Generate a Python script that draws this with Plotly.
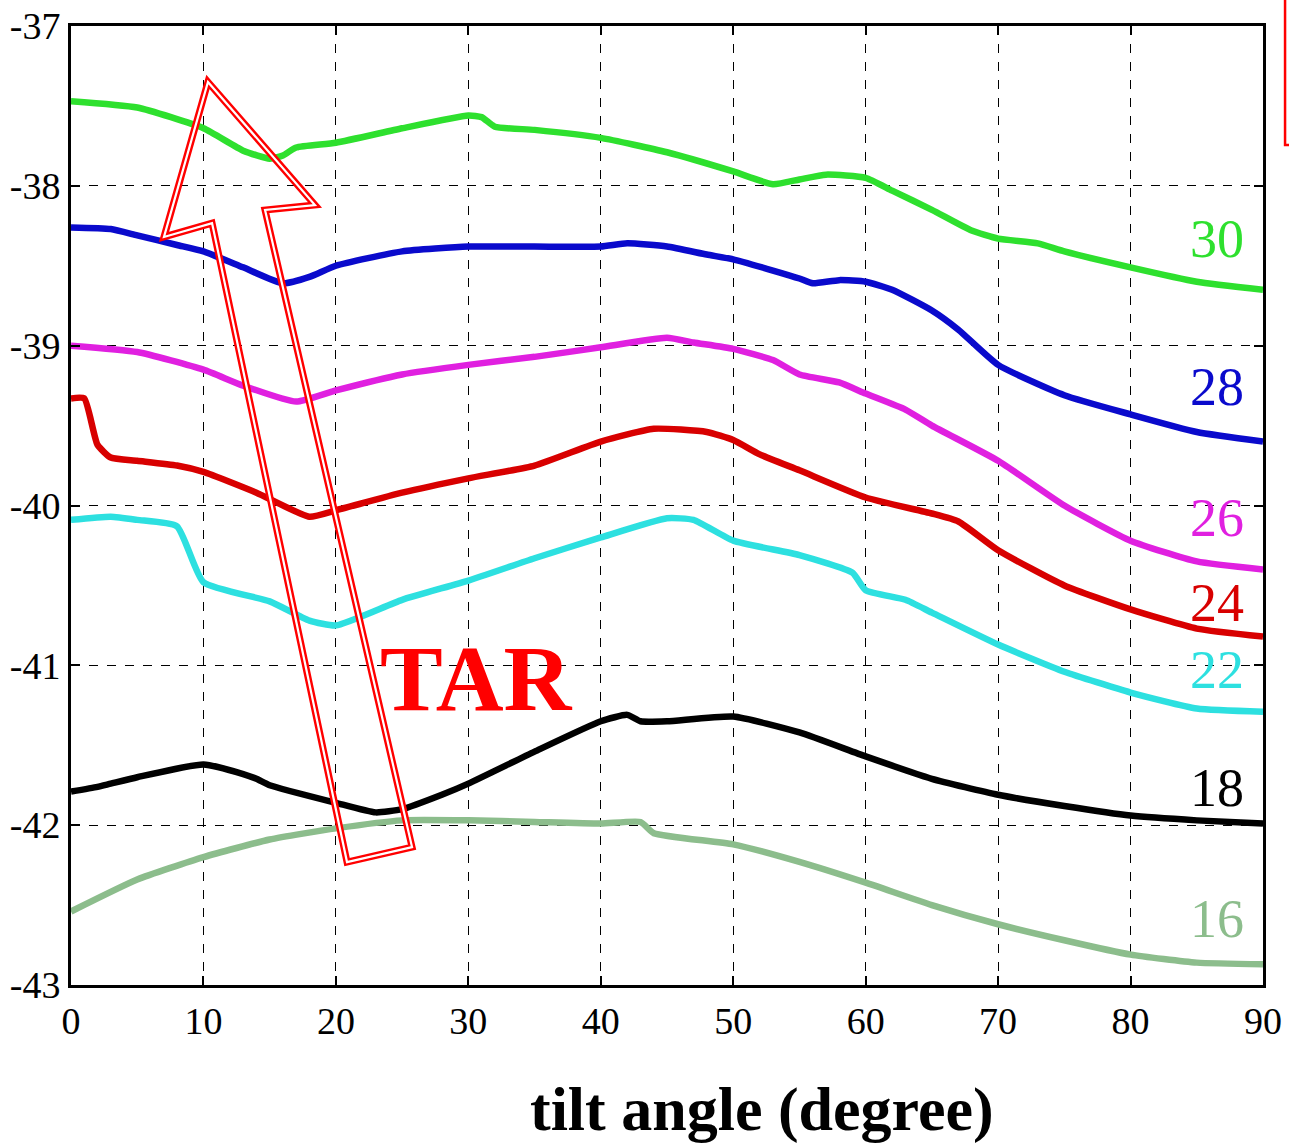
import plotly.graph_objects as go

# ---- data (tilt angle in degree, value) ----
x30 = [0, 5, 10, 13, 15, 16, 17, 20, 25, 30, 31, 32, 35, 40, 45, 50, 53, 55, 57, 60, 62, 65, 68, 70, 73, 75, 80, 85, 90]
y30 = [-37.47, -37.51, -37.64, -37.78, -37.83, -37.81, -37.76, -37.73, -37.64, -37.56, -37.57, -37.63, -37.65, -37.70,
       -37.79, -37.91, -37.99, -37.96, -37.93, -37.95, -38.03, -38.15, -38.28, -38.33, -38.36, -38.41, -38.51, -38.60, -38.65]

x28 = [0, 3, 5, 8, 10, 13, 16, 18, 20, 25, 30, 35, 40, 42, 45, 48, 50, 53, 55, 56, 58, 60, 62, 65, 67, 70, 75, 80, 85, 90]
y28 = [-38.26, -38.27, -38.31, -38.37, -38.41, -38.51, -38.61, -38.57, -38.50, -38.41, -38.38, -38.38, -38.38, -38.36,
       -38.38, -38.43, -38.46, -38.53, -38.58, -38.61, -38.59, -38.60, -38.65, -38.78, -38.90, -39.12, -39.31, -39.43,
       -39.54, -39.60]

x26 = [0, 5, 10, 13, 17, 20, 25, 30, 35, 40, 45, 47, 50, 53, 55, 58, 60, 63, 65, 70, 75, 80, 85, 90]
y26 = [-39.00, -39.04, -39.15, -39.25, -39.35, -39.28, -39.18, -39.12, -39.07, -39.01, -38.95, -38.98, -39.02, -39.09,
       -39.18, -39.23, -39.30, -39.40, -39.50, -39.72, -40.00, -40.22, -40.35, -40.40]

x24 = [0, 1, 2, 3, 5, 8, 10, 14, 18, 20, 25, 30, 35, 40, 44, 48, 50, 52, 55, 60, 65, 67, 70, 75, 80, 85, 90]
y24 = [-39.33, -39.33, -39.62, -39.70, -39.72, -39.75, -39.79, -39.92, -40.07, -40.03, -39.92, -39.83, -39.75, -39.60,
       -39.52, -39.54, -39.59, -39.68, -39.78, -39.95, -40.05, -40.10, -40.28, -40.50, -40.65, -40.77, -40.82]

x22 = [0, 3, 5, 8, 10, 15, 18, 20, 25, 30, 35, 40, 45, 47, 50, 55, 59, 60, 63, 65, 70, 75, 80, 85, 90]
y22 = [-40.09, -40.07, -40.09, -40.13, -40.48, -40.60, -40.72, -40.75, -40.59, -40.47, -40.33, -40.20, -40.08, -40.09,
       -40.22, -40.31, -40.42, -40.53, -40.59, -40.67, -40.87, -41.04, -41.17, -41.27, -41.29]

x18 = [0, 2, 3, 5, 10, 13, 14, 15, 20, 23, 25, 28, 30, 35, 40, 42, 43, 45, 50, 55, 60, 65, 70, 75, 80, 85, 90]
y18 = [-41.79, -41.76, -41.74, -41.70, -41.62, -41.68, -41.71, -41.75, -41.86, -41.92, -41.90, -41.81, -41.74, -41.54,
       -41.35, -41.31, -41.35, -41.35, -41.32, -41.42, -41.57, -41.71, -41.81, -41.88, -41.94, -41.97, -41.99]

x16 = [0, 5, 10, 15, 20, 25, 30, 35, 40, 43, 44, 50, 55, 60, 65, 70, 75, 80, 85, 90]
y16 = [-42.54, -42.34, -42.20, -42.09, -42.02, -41.97, -41.97, -41.98, -41.99, -41.98, -42.05, -42.12, -42.23, -42.36,
       -42.50, -42.62, -42.72, -42.81, -42.86, -42.87]

labels = ["30", "28", "26", "24", "22", "18", "16"]
xs = [x30, x28, x26, x24, x22, x18, x16]
ys = [y30, y28, y26, y24, y22, y18, y16]
colors = ["#2ee02e", "#0a0acc", "#e020e0", "#d80000", "#2de0e0", "#000000", "#8cbd8c"]
label_y = [-38.33, -39.26, -40.08, -40.61, -41.03, -41.77, -42.59]

xticks = [0, 10, 20, 30, 40, 50, 60, 70, 80, 90]
yticks = [-43, -42, -41, -40, -39, -38, -37]

# arrow outline (data coordinates)
arrow_x = [10.34, 18.42, 14.65, 25.75, 20.84, 10.65, 7.02]
arrow_y = [-37.350, -38.120, -38.151, -42.137, -42.231, -38.233, -38.320]

fig = go.Figure()
for xv, yv, c, lab in zip(xs, ys, colors, labels):
    fig.add_trace(go.Scatter(x=xv, y=yv, mode="lines",
                             line=dict(color=c, width=6.5, shape="spline", smoothing=0.5),
                             name=lab, showlegend=False))

for lab, ly, c in zip(labels, label_y, colors):
    fig.add_annotation(x=88.7, y=ly, text=lab, showarrow=False, xanchor="right", yanchor="middle",
                       font=dict(family="Liberation Serif", size=54, color=c))

path = "M " + " L ".join(f"{a},{b}" for a, b in zip(arrow_x, arrow_y)) + " Z"
fig.add_shape(type="path", path=path, xref="x", yref="y", line=dict(color="#ff0000", width=7), layer="above")
fig.add_shape(type="path", path=path, xref="x", yref="y", line=dict(color="white", width=2.2), layer="above")

fig.add_annotation(x=30.6, y=-41.08, text="<b>TAR</b>", showarrow=False, xanchor="center", yanchor="middle",
                   font=dict(family="Liberation Serif", size=94, color="#ff0000"))

# red box fragment at top right
fig.add_shape(type="rect", xref="paper", yref="paper", x0=1.0185, x1=1.06, y0=0.876, y1=1.05,
              line=dict(color="#ff0000", width=2.5), layer="above")

fig.add_annotation(xref="paper", yref="paper", x=0.58, y=-0.13, text="<b>tilt angle (degree)</b>",
                   showarrow=False, xanchor="center", yanchor="middle",
                   font=dict(family="Liberation Serif", size=62, color="black"))

axis_common = dict(showline=True, linecolor="black", linewidth=3, mirror="allticks",
                   ticks="inside", ticklen=9, tickwidth=2, tickcolor="black",
                   showgrid=True, gridcolor="black", gridwidth=1.2, griddash="dash",
                   zeroline=False, automargin=False,
                   tickfont=dict(family="Liberation Serif", size=38, color="black"))

fig.update_xaxes(range=[0, 90], tickvals=xticks, ticktext=[str(v) for v in xticks], **axis_common)
fig.update_yaxes(range=[-43, -37], tickvals=yticks, ticktext=[str(v) for v in yticks], **axis_common)

fig.update_layout(width=1289, height=1143, margin=dict(l=71, r=26, t=26, b=158, autoexpand=False),
                  paper_bgcolor="white", plot_bgcolor="white")

fig.write_html("out.html")
